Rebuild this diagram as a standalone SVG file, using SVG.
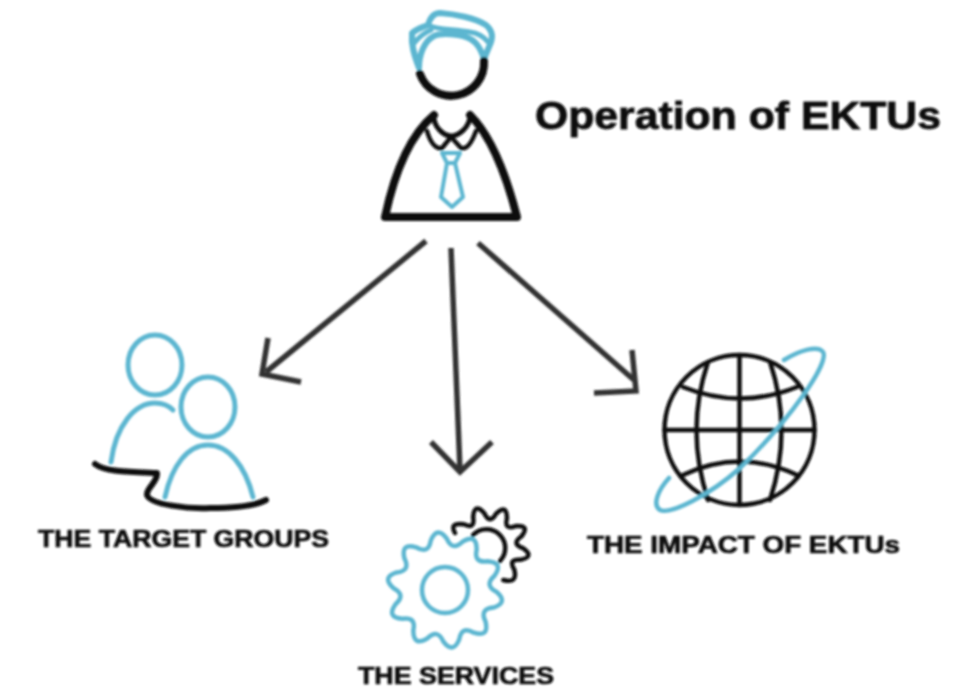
<svg xmlns="http://www.w3.org/2000/svg" width="968" height="690" viewBox="0 0 968 690">
<defs><filter id="soft" x="-5%" y="-5%" width="110%" height="110%"><feGaussianBlur stdDeviation="0.8"/></filter></defs>
<style>
.k{fill:none;stroke:#0d0d0d;stroke-linecap:round;stroke-linejoin:round}
.b{fill:none;stroke:#5cb6d0;stroke-linecap:round;stroke-linejoin:round}
.a{fill:none;stroke:#333;stroke-width:5.5;stroke-linecap:butt;stroke-linejoin:miter}
.l{font-family:"Liberation Sans",Arial,sans-serif;font-weight:700;fill:#111;stroke:#111;stroke-width:.7;font-size:24px}
.t{font-family:"Liberation Sans",Arial,sans-serif;font-weight:700;fill:#111;stroke:#111;stroke-width:.8;font-size:39px}
</style>
<rect width="968" height="690" fill="#fff"/>
<g filter="url(#soft)">
<g id="connectors">
<path class="a" d="M426,241 L266,372"/><path class="a" d="M268,338 L262,374 L301,382"/>
<path class="a" d="M451,248 L460,470"/><path class="a" d="M431,442 L460,472 L492,442"/>
<path class="a" d="M478,243 L634,380"/><path class="a" d="M632,350 L636,391 L594,393"/>
</g>
<g id="manager">
<path class="b" stroke-width="6" d="M419,68 C414,55 411,45 412,33 C418,28 424,27 428,25 C430,18 434,13 440,13 C455,14 475,18 486,25 C492,30 493,36 491,42 L484,59 C480,46 474,37 458,35 C450,34 440,33 434,36 C424,41 419,55 419,68Z"/>
<path class="b" stroke-width="5" d="M428,25 C436,30 455,29 470,32 C478,33 484,37 488,42 M414,43 C420,36 426,32 431,30"/>
<path class="k" stroke-width="8" d="M420,74 A33,33 0 0 0 484,61"/>
<path class="k" stroke-width="8" d="M385,217 L517,217 C505,170 490,135 470,115 M385,217 C395,170 410,135 434,115"/>
<path class="k" stroke-width="5" d="M434,115 C433,128 445,136 451,136 C458,136 470,128 470,115"/>
<path class="k" stroke-width="4.5" d="M427,131 C430,142 436,150 442,148 L451,137 L461,148 C467,150 472,142 476,131"/>
<path class="b" stroke-width="4" d="M442,153 L460,153 L455,163 L447,163Z M447,163 L441,197 L452,207 L463,197 L455,163"/>
</g>
<g id="target-groups">
<ellipse class="b" stroke-width="5" cx="155" cy="365" rx="27" ry="30"/>
<ellipse class="b" stroke-width="5" cx="208" cy="407" rx="27" ry="30"/>
<path class="b" stroke-width="5" d="M111,462 C116,425 135,403 155,403 C163,403 168,405 173,410"/>
<path class="b" stroke-width="5" d="M165,497 C172,465 188,445 208,445 C228,445 245,465 253,497"/>
<path class="k" stroke-width="6" d="M95,464 C105,472 130,472 157,473 C158,482 146,488 147,495 C150,505 190,509 210,508 C235,508 255,506 266,500"/>
<text class="l" x="38" y="547" textLength="291" lengthAdjust="spacingAndGlyphs">THE TARGET GROUPS</text>
</g>
<g id="services">
<path class="k" stroke-width="4.5" d="M455,533 Q449.1,522.1 463.7,524.3 Q475.4,529.7 473.1,517 Q474.5,502.3 484.3,513.3 Q489.8,525 496.1,513.7 Q506.6,503.4 507,518.2 Q503.7,530.7 515.8,526.1 Q530.5,525 521.3,536.5 Q510.8,543.9 523,548.2 Q535,556.8 520.5,559.8 Q507.7,558.7 514.3,569.7 Q518,584 503.3,580"/>
<path class="k" stroke-width="4.5" d="M473,535 A18,18 0 0 1 500,561"/>
<path class="b" stroke-width="4.5" d="M446.8,538.6 Q437.1,525.5 430.8,540.5 Q428.5,554.7 416.2,547.3 Q400.7,542.5 404.4,558.3 Q410.9,571.1 396.6,572.4 Q381.2,577.6 393.6,588.2 Q406.3,594.8 395.5,604.2 Q386.1,617.5 402.3,618.8 Q416.5,616.6 413.3,630.6 Q413.5,646.9 427.4,638.4 Q437.6,628.3 443.2,641.4 Q452.9,654.5 459.2,639.5 Q461.5,625.3 473.8,632.7 Q489.3,637.5 485.6,621.7 Q479.1,608.9 493.4,607.6 Q508.8,602.4 496.4,591.8 Q483.7,585.2 494.5,575.8 Q503.9,562.5 487.7,561.2 Q473.5,563.4 476.7,549.4 Q476.5,533.1 462.6,541.6 Q452.4,551.7 446.8,538.6Z"/>
<circle class="b" stroke-width="4.5" cx="445" cy="590" r="23"/>
<text class="l" x="358" y="684" textLength="196" lengthAdjust="spacingAndGlyphs">THE SERVICES</text>
</g>
<g id="impact">
<circle class="k" stroke-width="4.5" cx="739.5" cy="430" r="75"/>
<path class="k" stroke-width="4.5" d="M739.5,355 V505 M664.5,430 H814.5 M683,387 Q740,410 797,387 M683,475 Q740,448 797,475 M708,362 Q685,430 708,500 M770,362 Q793,430 770,500"/>
<path class="b" stroke-width="4.5" d="M784,360 C800,350 818,345 823,352 C830,362 790,420 740,468 C710,495 670,515 660,510 C652,505 658,490 669,478"/>
<text class="l" x="587" y="553" textLength="313" lengthAdjust="spacingAndGlyphs">THE IMPACT OF EKTUs</text>
</g>
<text id="title" class="t" x="535" y="129" textLength="406" lengthAdjust="spacingAndGlyphs">Operation of EKTUs</text>
</g>
</svg>
